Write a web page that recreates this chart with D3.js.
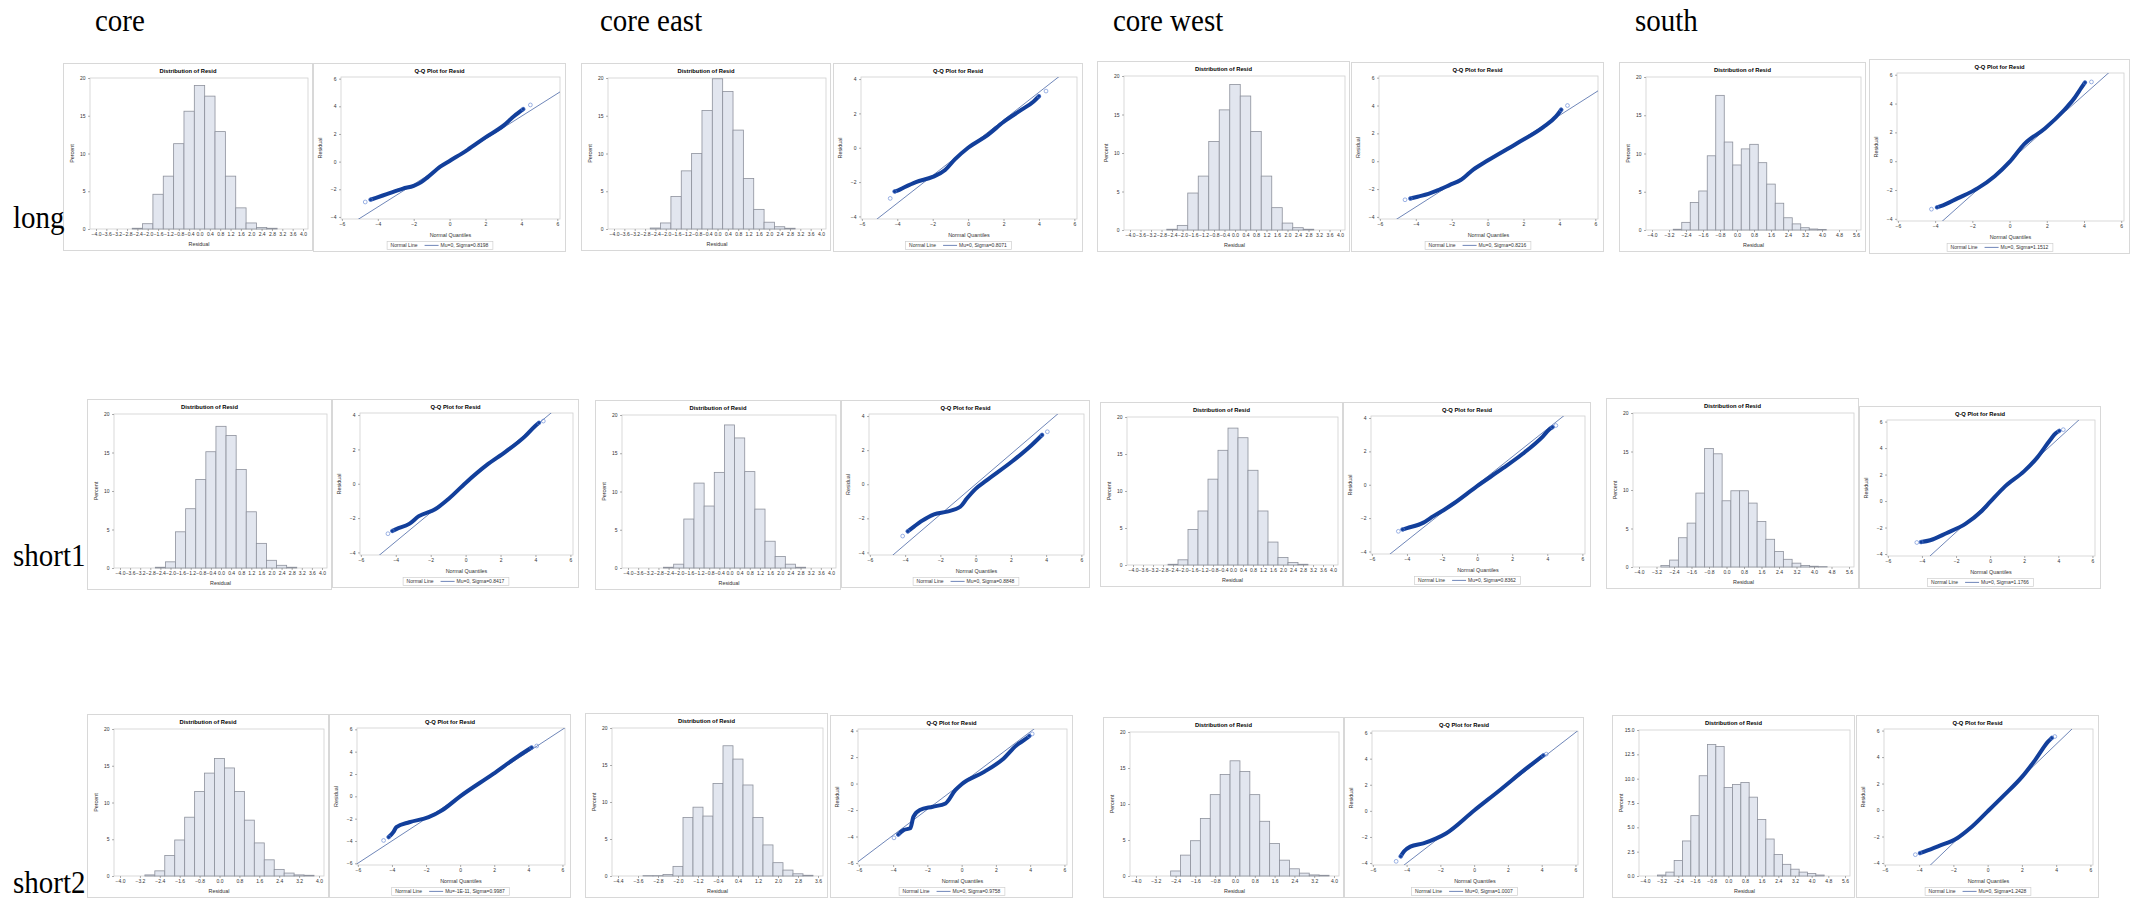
<!DOCTYPE html>
<html>
<head>
<meta charset="utf-8">
<script src="https://cdn.jsdelivr.net/npm/d3@7"></script>
<style>
  body { margin: 0; background: #fff; }
  svg { display: block; }
</style>
</head>
<body>
<svg id="chart" width="2134" height="900"></svg>
<script>
// residual diagnostics, 4 regions x 3 horizons
const colLabels = ["core", "core east", "core west", "south"];
const rowLabels = ["long", "short1", "short2"];

// histogram: [bin midpoint, percent], bins are 0.4 wide
const histCoreLong = [[-2.4,0.1],[-2.0,0.7],[-1.6,4.6],[-1.2,7.0],[-0.8,11.3],[-0.4,15.6],[0.0,19.0],[0.4,17.6],[0.8,12.9],[1.2,7.0],[1.6,2.8],[2.0,0.8],[2.4,0.2],[2.8,0.1]];
const histEastLong = [[-2.4,0.13],[-2.0,0.8],[-1.6,4.3],[-1.2,7.7],[-0.8,10.0],[-0.4,15.7],[0.0,19.9],[0.4,18.2],[0.8,13.1],[1.2,6.7],[1.6,2.6],[2.0,0.9],[2.4,0.3],[2.8,0.1]];
const histWestLong = [[-2.4,0.1],[-2.0,0.6],[-1.6,4.8],[-1.2,7.0],[-0.8,11.5],[-0.4,15.6],[0.0,18.9],[0.4,17.4],[0.8,12.8],[1.2,7.0],[1.6,2.9],[2.0,0.9],[2.4,0.3],[2.8,0.1]];
const histSouthLong = [[-2.8,0.1],[-2.4,1.0],[-2.0,3.6],[-1.6,5.1],[-1.2,9.7],[-0.8,17.6],[-0.4,11.5],[0.0,8.5],[0.4,10.6],[0.8,11.2],[1.2,8.8],[1.6,6.0],[2.0,3.5],[2.4,1.6],[2.8,0.8],[3.2,0.3],[3.6,0.13],[4.0,0.08]];
const histCoreShort1 = [[-2.4,0.1],[-2.0,0.8],[-1.6,4.7],[-1.2,7.7],[-0.8,11.5],[-0.4,15.1],[0.0,18.4],[0.4,17.2],[0.8,12.8],[1.2,7.3],[1.6,3.2],[2.0,1.0],[2.4,0.35],[2.8,0.1]];
const histEastShort1 = [[-2.4,0.1],[-2.0,0.5],[-1.6,6.4],[-1.2,11.1],[-0.8,8.1],[-0.4,12.5],[0.0,18.7],[0.4,17.0],[0.8,12.6],[1.2,7.7],[1.6,3.5],[2.0,1.5],[2.4,0.5],[2.8,0.1]];
const histWestShort1 = [[-2.4,0.1],[-2.0,0.7],[-1.6,4.8],[-1.2,7.3],[-0.8,11.6],[-0.4,15.5],[0.0,18.5],[0.4,17.2],[0.8,12.8],[1.2,7.3],[1.6,3.1],[2.0,1.0],[2.4,0.35],[2.8,0.1]];
const histSouthShort1 = [[-2.8,0.2],[-2.4,0.9],[-2.0,3.8],[-1.6,5.7],[-1.2,9.6],[-0.8,15.4],[-0.4,14.7],[0.0,8.6],[0.4,9.9],[0.8,9.9],[1.2,8.3],[1.6,5.9],[2.0,3.6],[2.4,2.0],[2.8,1.0],[3.2,0.5],[3.6,0.2],[4.0,0.1],[4.4,0.05]];
const histCoreShort2 = [[-2.8,0.15],[-2.4,0.7],[-2.0,2.8],[-1.6,4.9],[-1.2,8.0],[-0.8,11.5],[-0.4,14.0],[0.0,16.0],[0.4,14.7],[0.8,11.5],[1.2,7.6],[1.6,4.5],[2.0,2.2],[2.4,0.9],[2.8,0.4],[3.2,0.15],[3.6,0.1]];
const histEastShort2 = [[-3.2,0.05],[-2.8,0.05],[-2.4,0.2],[-2.0,1.3],[-1.6,7.9],[-1.2,9.3],[-0.8,8.1],[-0.4,12.5],[0.0,17.6],[0.4,15.8],[0.8,12.3],[1.2,7.9],[1.6,4.2],[2.0,1.8],[2.4,0.8],[2.8,0.3],[3.2,0.1]];
const histWestShort2 = [[-2.4,0.7],[-2.0,2.9],[-1.6,4.9],[-1.2,8.0],[-0.8,11.3],[-0.4,14.1],[0.0,16.0],[0.4,14.5],[0.8,11.3],[1.2,7.6],[1.6,4.5],[2.0,2.2],[2.4,1.0],[2.8,0.4],[3.2,0.15],[3.6,0.1]];
const histSouthShort2 = [[-3.2,0.1],[-2.8,0.4],[-2.4,1.6],[-2.0,3.6],[-1.6,6.2],[-1.2,10.3],[-0.8,13.5],[-0.4,13.3],[0.0,9.1],[0.4,9.4],[0.8,9.6],[1.2,8.1],[1.6,5.8],[2.0,3.8],[2.4,2.2],[2.8,1.2],[3.2,0.7],[3.6,0.4],[4.0,0.25],[4.4,0.1]];

// q-q: [normal quantile, residual] read along the plotted band
const qqCoreLong = [[-4.7,-2.92],[-4.4,-2.75],[-4.1,-2.62],[-3.5,-2.35],[-2.6,-1.95],[-2.0,-1.75],[-1.6,-1.5],[-1.2,-1.1],[-0.5,-0.35],[0,0.05],[1,0.85],[2,1.75],[3,2.6],[3.6,3.3],[4.1,3.8],[4.5,4.1]];
const qqEastLong = [[-4.4,-2.95],[-4.15,-2.55],[-3.95,-2.48],[-3.6,-2.3],[-2.95,-2.0],[-2.0,-1.7],[-1.3,-1.3],[-0.75,-0.68],[0,0],[1.1,0.74],[2.0,1.5],[3.0,2.2],[3.7,2.7],[4.0,3.0],[4.4,3.3]];
const qqWestLong = [[-4.6,-2.77],[-4.3,-2.68],[-3.9,-2.55],[-3.3,-2.35],[-2.8,-2.1],[-2.1,-1.7],[-1.5,-1.35],[-0.8,-0.6],[0,0.05],[1.6,1.26],[3.1,2.45],[3.8,3.2],[4.1,3.7],[4.45,4.0]];
const qqSouthLong = [[-4.2,-3.33],[-3.9,-3.2],[-3.7,-3.12],[-2.8,-2.58],[-1.7,-1.87],[-0.8,-1.04],[0,-0.05],[0.8,1.2],[1.9,2.27],[2.95,3.57],[3.5,4.4],[3.86,5.1],[4.05,5.46],[4.4,5.5]];
const qqCoreShort1 = [[-4.45,-2.91],[-4.2,-2.75],[-3.97,-2.64],[-3.23,-2.34],[-2.68,-1.89],[-1.75,-1.49],[-1.0,-0.9],[0,0.05],[1.2,1.08],[2.3,1.87],[3.4,2.76],[3.97,3.35],[4.2,3.55],[4.45,3.65]];
const qqEastShort1 = [[-4.14,-3.04],[-3.85,-2.76],[-3.48,-2.47],[-3.1,-2.18],[-2.36,-1.76],[-1.62,-1.61],[-0.87,-1.32],[-0.5,-0.84],[0,-0.27],[0.6,0.21],[2.1,1.36],[3.2,2.32],[3.77,2.89],[4.07,3.08]];
const qqWestShort1 = [[-4.49,-2.79],[-4.25,-2.68],[-4.0,-2.6],[-3.06,-2.27],[-2.49,-1.88],[-1.92,-1.53],[-1.36,-1.14],[0,-0.08],[1.47,0.99],[2.6,1.86],[3.74,2.89],[4.11,3.31],[4.3,3.45],[4.49,3.55]];
const qqSouthShort1 = [[-4.3,-3.13],[-4.05,-3.1],[-3.52,-2.96],[-2.57,-2.43],[-1.43,-1.7],[-0.48,-0.73],[0,-0.07],[0.86,1.09],[2.0,2.26],[2.76,3.28],[3.52,4.61],[3.83,5.1],[4.05,5.3],[4.29,5.39]];
const qqCoreShort2 = [[-4.49,-3.95],[-4.19,-3.65],[-3.92,-3.21],[-3.74,-2.76],[-2.98,-2.32],[-1.85,-1.87],[-1.09,-1.28],[0,0],[1.92,1.99],[3.43,3.62],[4.19,4.37],[4.49,4.51]];
const qqEastShort2 = [[-3.95,-4.1],[-3.7,-3.85],[-3.37,-3.5],[-3.0,-3.38],[-2.81,-2.5],[-2.44,-2.0],[-1.69,-1.75],[-0.94,-1.5],[-0.37,-0.5],[0,-0.05],[1.31,0.88],[2.44,1.88],[3.19,2.88],[3.75,3.38],[3.95,3.6],[4.12,3.75]];
const qqWestShort2 = [[-4.62,-3.87],[-4.35,-3.49],[-4.16,-3.12],[-3.78,-2.74],[-3.01,-2.49],[-2.24,-2.11],[-1.67,-1.73],[0,0.03],[1.59,1.66],[3.13,3.29],[3.89,4.05],[4.1,4.25],[4.27,4.35]];
const qqSouthShort2 = [[-4.22,-3.37],[-3.95,-3.25],[-3.66,-3.12],[-2.9,-2.74],[-1.76,-2.11],[-1.01,-1.36],[0,-0.1],[0.89,1.03],[2.03,2.54],[2.78,3.79],[3.54,5.18],[3.75,5.45],[3.92,5.55]];

const sigmas = [0.8198, 0.8071, 0.8216, 1.1512, 0.8417, 0.8848, 0.8362, 1.1766, 0.9987, 0.9758, 1.0007, 1.2428];
const fitLabels = ["Mu=0, Sigma=0.8198", "Mu=0, Sigma=0.8071", "Mu=0, Sigma=0.8216", "Mu=0, Sigma=1.1512",
                   "Mu=0, Sigma=0.8417", "Mu=0, Sigma=0.8848", "Mu=0, Sigma=0.8362", "Mu=0, Sigma=1.1766",
                   "Mu=-1E-11, Sigma=0.9987", "Mu=0, Sigma=0.9758", "Mu=0, Sigma=1.0007", "Mu=0, Sigma=1.2428"];

// tick label sets
const ticksFine = [-4.0,-3.6,-3.2,-2.8,-2.4,-2.0,-1.6,-1.2,-0.8,-0.4,0.0,0.4,0.8,1.2,1.6,2.0,2.4,2.8,3.2,3.6,4.0];
const ticksSouth = [-4.0,-3.2,-2.4,-1.6,-0.8,0.0,0.8,1.6,2.4,3.2,4.0,4.8,5.6];
const ticksMid = [-4.0,-3.2,-2.4,-1.6,-0.8,0.0,0.8,1.6,2.4,3.2,4.0];
const ticksOff = [-4.4,-3.6,-2.8,-2.0,-1.2,-0.4,0.4,1.2,2.0,2.8,3.6];
const pctTicks = [0,5,10,15,20];
const pctTicksFine = [0,2.5,5,7.5,10,12.5,15];
const qqXTicks = [-6,-4,-2,0,2,4,6];
const qqY46 = [-4,-2,0,2,4,6];
const qqY44 = [-4,-2,0,2,4];
const qqY66 = [-6,-4,-2,0,2,4,6];
const qqY64 = [-6,-4,-2,0,2,4];

// panel boxes on the page [x0, y0, x1, y1]: histogram then q-q, row by row
const histFrames = [
  [63,63,313,251], [581,63,831,251], [1097,61,1350,252], [1619,62,1866,252],
  [87,399,332,590], [595,400,841,590], [1100,402,1343,587], [1606,398,1859,589],
  [87,714,329,898], [585,713,828,898], [1103,717,1344,898], [1612,715,1855,898]
];
const qqFrames = [
  [313,63,566,252], [833,63,1083,252], [1351,62,1604,252], [1869,59,2130,254],
  [332,399,579,588], [841,400,1090,588], [1343,402,1591,587], [1859,406,2101,589],
  [329,714,571,898], [830,715,1073,898], [1344,717,1584,898], [1856,715,2099,898]
];

const hists = [histCoreLong, histEastLong, histWestLong, histSouthLong,
               histCoreShort1, histEastShort1, histWestShort1, histSouthShort1,
               histCoreShort2, histEastShort2, histWestShort2, histSouthShort2];
const histX = [ticksFine, ticksFine, ticksFine, ticksSouth,
               ticksFine, ticksFine, ticksFine, ticksSouth,
               ticksMid, ticksOff, ticksMid, ticksSouth];
const histY = [pctTicks, pctTicks, pctTicks, pctTicks, pctTicks, pctTicks, pctTicks, pctTicks,
               pctTicks, pctTicks, pctTicks, pctTicksFine];
const qqs = [qqCoreLong, qqEastLong, qqWestLong, qqSouthLong,
             qqCoreShort1, qqEastShort1, qqWestShort1, qqSouthShort1,
             qqCoreShort2, qqEastShort2, qqWestShort2, qqSouthShort2];
const qqY = [qqY46, qqY44, qqY46, qqY46, qqY44, qqY44, qqY44, qqY46, qqY66, qqY64, qqY46, qqY46];

const SANS = "'Liberation Sans', Arial, sans-serif";
const svg = d3.select("#chart");
svg.append("rect").attr("width", 2134).attr("height", 900).attr("fill", "#fff");

function frame(g, f) {
  g.append("rect")
    .attr("x", f[0] + 0.5).attr("y", f[1] + 0.5)
    .attr("width", f[2] - f[0] - 1).attr("height", f[3] - f[1] - 1)
    .attr("fill", "#fff").attr("stroke", "#d8d8d8").attr("stroke-width", 1);
  g.append("text")
    .attr("x", (f[0] + f[2]) / 2).attr("y", f[1] + 10)
    .attr("text-anchor", "middle")
    .attr("font-family", SANS).attr("font-size", 5.8).attr("font-weight", "bold")
    .attr("fill", "#000");
}

function styleAxis(sel) {
  sel.select(".domain").remove();
  sel.selectAll(".tick line").attr("stroke", "#777").attr("stroke-width", 0.6);
  sel.selectAll(".tick text").attr("font-family", SANS).attr("font-size", 5).attr("fill", "#333");
}

function histPanel(i) {
  const f = histFrames[i], bins = hists[i], xt = histX[i], yt = histY[i];
  const g = svg.append("g");
  frame(g, f);
  g.select("text").text("Distribution of Resid");

  const L = f[0] + 27, R = f[2] - 5, T = f[1] + 15, B = f[3] - 22;
  const x = d3.scaleLinear().domain([xt[0], xt[xt.length - 1]]).range([L + 6, R - 5]);
  const y = d3.scaleLinear().domain([0, yt[yt.length - 1]]).range([B, T]);

  g.append("rect").attr("x", L).attr("y", T).attr("width", R - L).attr("height", B - T)
    .attr("fill", "none").attr("stroke", "#d0d0d0").attr("stroke-width", 0.8);

  g.selectAll("rect.bar").data(bins).join("rect")
    .attr("class", "bar")
    .attr("x", d => x(d[0] - 0.2))
    .attr("width", d => x(d[0] + 0.2) - x(d[0] - 0.2))
    .attr("y", d => y(d[1]))
    .attr("height", d => y(0) - y(d[1]))
    .attr("fill", "#e2e6ef").attr("stroke", "#8d919c").attr("stroke-width", 0.8);

  g.append("g").attr("transform", `translate(0,${B})`)
    .call(d3.axisBottom(x).tickValues(xt).tickFormat(d3.format(".1f")).tickSize(2).tickPadding(1.2))
    .call(styleAxis);
  const yf = yt === pctTicksFine ? d3.format(".1f") : d3.format("d");
  g.append("g").attr("transform", `translate(${L},0)`)
    .call(d3.axisLeft(y).tickValues(yt).tickFormat(yf).tickSize(2).tickPadding(2.5))
    .call(styleAxis);

  g.append("text").attr("x", (L + R) / 2).attr("y", B + 17)
    .attr("text-anchor", "middle").attr("font-family", SANS).attr("font-size", 5.4).attr("fill", "#333")
    .text("Residual");
  g.append("text")
    .attr("transform", `translate(${f[0] + 11},${(T + B) / 2}) rotate(-90)`)
    .attr("text-anchor", "middle").attr("font-family", SANS).attr("font-size", 5.4).attr("fill", "#333")
    .text("Percent");
}

function qqPanel(i) {
  const f = qqFrames[i], pts = qqs[i], yt = qqY[i], s = sigmas[i];
  const g = svg.append("g");
  frame(g, f);
  g.select("text").text("Q-Q Plot for Resid");

  const L = f[0] + 28, R = f[2] - 6, T = f[1] + 14, B = f[3] - 33;
  const x = d3.scaleLinear().domain([-6.05, 6.15]).range([L, R]);
  const y = d3.scaleLinear().domain([yt[0] - 0.15, yt[yt.length - 1] + 0.12]).range([B, T]);

  g.append("rect").attr("x", L).attr("y", T).attr("width", R - L).attr("height", B - T)
    .attr("fill", "none").attr("stroke", "#d0d0d0").attr("stroke-width", 0.8);

  const cid = "qqclip" + i;
  g.append("clipPath").attr("id", cid).append("rect")
    .attr("x", L).attr("y", T).attr("width", R - L).attr("height", B - T);
  const plot = g.append("g").attr("clip-path", `url(#${cid})`);

  const xd = x.domain();
  plot.append("line")
    .attr("x1", x(xd[0])).attr("y1", y(s * xd[0]))
    .attr("x2", x(xd[1])).attr("y2", y(s * xd[1]))
    .attr("stroke", "#5f78b0").attr("stroke-width", 0.9);

  const band = pts.slice(1, pts.length - 1);
  plot.append("path").datum(band)
    .attr("d", d3.line().x(d => x(d[0])).y(d => y(d[1])).curve(d3.curveMonotoneX))
    .attr("fill", "none").attr("stroke", "#123f9b").attr("stroke-width", 4)
    .attr("stroke-linecap", "round").attr("stroke-linejoin", "round");

  const ends = [pts[0], pts[1], pts[pts.length - 2], pts[pts.length - 1]];
  plot.selectAll("circle").data(ends).join("circle")
    .attr("cx", d => x(d[0])).attr("cy", d => y(d[1])).attr("r", 1.9)
    .attr("fill", "none").attr("stroke", "#5b80d2").attr("stroke-width", 0.6);

  g.append("g").attr("transform", `translate(0,${B})`)
    .call(d3.axisBottom(x).tickValues(qqXTicks).tickFormat(d3.format("d")).tickSize(2).tickPadding(1.2))
    .call(styleAxis);
  g.append("g").attr("transform", `translate(${L},0)`)
    .call(d3.axisLeft(y).tickValues(yt).tickFormat(d3.format("d")).tickSize(2).tickPadding(2.5))
    .call(styleAxis);

  g.append("text").attr("x", (L + R) / 2).attr("y", B + 18)
    .attr("text-anchor", "middle").attr("font-family", SANS).attr("font-size", 5.4).attr("fill", "#333")
    .text("Normal Quantiles");
  g.append("text")
    .attr("transform", `translate(${f[0] + 9},${(T + B) / 2}) rotate(-90)`)
    .attr("text-anchor", "middle").attr("font-family", SANS).attr("font-size", 5.4).attr("fill", "#333")
    .text("Residual");

  // legend box under the axis label
  const lg = g.append("g");
  const t1 = lg.append("text").attr("x", 4).attr("y", 6.2)
    .attr("font-family", SANS).attr("font-size", 5).attr("fill", "#333").text("Normal Line");
  const w1 = t1.node().getComputedTextLength();
  const lx = 4 + w1 + 7;
  lg.append("line").attr("x1", lx).attr("x2", lx + 14).attr("y1", 4.4).attr("y2", 4.4)
    .attr("stroke", "#5f78b0").attr("stroke-width", 0.9);
  const t2 = lg.append("text").attr("x", lx + 16).attr("y", 6.2)
    .attr("font-family", SANS).attr("font-size", 5).attr("fill", "#333").text(fitLabels[i]);
  const bw = lx + 16 + t2.node().getComputedTextLength() + 4;
  lg.insert("rect", ":first-child").attr("x", 0.5).attr("y", 0.5).attr("width", bw).attr("height", 8)
    .attr("fill", "#fff").attr("stroke", "#cfcfcf").attr("stroke-width", 0.7);
  lg.attr("transform", `translate(${(f[0] + f[2]) / 2 - bw / 2},${B + 22})`);
}

d3.range(12).forEach(i => { histPanel(i); qqPanel(i); });

// region and horizon labels
const SERIF = "'Liberation Serif', 'Times New Roman', serif";
const colX = [95, 600, 1113, 1635];
svg.selectAll("text.col").data(colLabels).join("text")
  .attr("class", "col")
  .attr("transform", (d, i) => `translate(${colX[i]},31) scale(1,1.1)`)
  .attr("font-family", SERIF)
  .attr("font-size", 29).attr("fill", "#000")
  .text(d => d);

const rowY = [228, 566, 893];
svg.selectAll("text.row").data(rowLabels).join("text")
  .attr("class", "row")
  .attr("transform", (d, i) => `translate(13,${rowY[i]}) scale(1,1.1)`)
  .attr("font-family", SERIF)
  .attr("font-size", 29).attr("fill", "#000")
  .text(d => d);
</script>
</body>
</html>
